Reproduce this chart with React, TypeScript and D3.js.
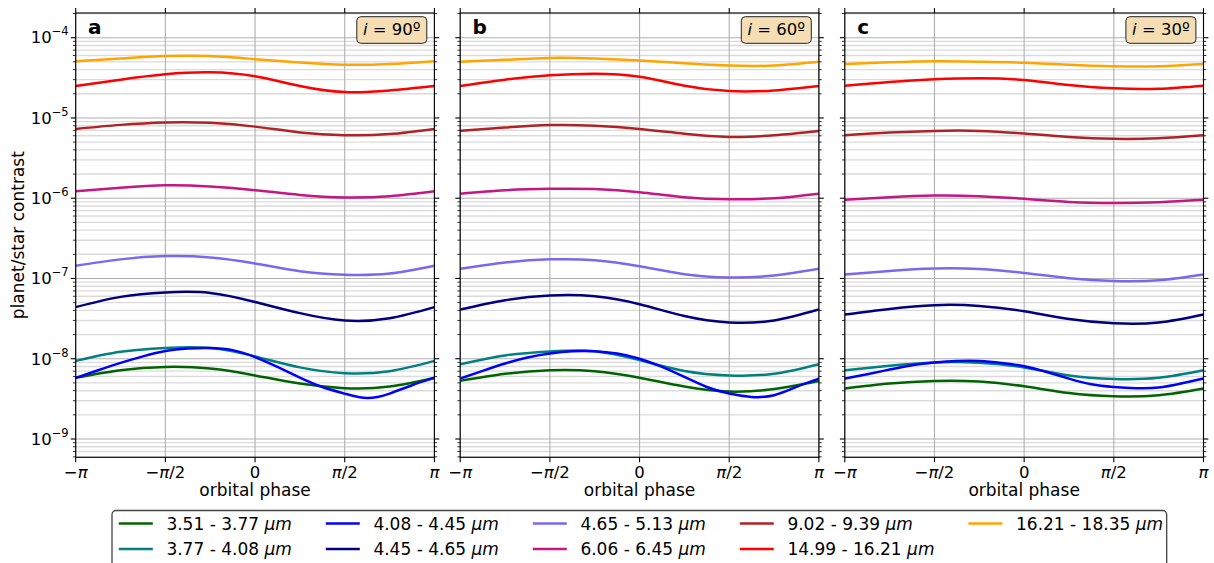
import React from "react";
import * as d3 from "d3";

// Phase samples, in units of pi
const phaseSamples = [-1, -0.75, -0.5, -0.25, 0, 0.25, 0.5, 0.75, 1];
// Finer phase samples for the more strongly modulated 4.08-4.45 µm band
const phaseSamplesFine = [
  -1, -0.875, -0.75, -0.625, -0.5, -0.375, -0.25, -0.125, 0, 0.125, 0.25, 0.375, 0.5, 0.625,
  0.75, 0.875, 1,
];

const bands = [
  "3.51 - 3.77",
  "3.77 - 4.08",
  "4.08 - 4.45",
  "4.45 - 4.65",
  "4.65 - 5.13",
  "6.06 - 6.45",
  "9.02 - 9.39",
  "14.99 - 16.21",
  "16.21 - 18.35",
];

const bandColors = [
  "#006400",
  "#008080",
  "#0000ff",
  "#000080",
  "#7b68ee",
  "#c71585",
  "#b22222",
  "#ff0000",
  "#ffa500",
];

// Planet/star contrast per band, inclination 90°
const contrastI90: number[][] = [
  [5.8e-9, 7.2e-9, 7.9e-9, 7.55e-9, 6.2e-9, 4.9e-9, 4.3e-9, 4.5e-9, 5.8e-9],
  [9.4e-9, 1.22e-8, 1.36e-8, 1.36e-8, 1.07e-8, 7.8e-9, 6.6e-9, 7.0e-9, 9.4e-9],
  [
    5.77e-9, 7.19e-9, 8.87e-9, 1.07e-8, 1.25e-8, 1.34e-8, 1.36e-8, 1.28e-8, 1.05e-8, 7.91e-9,
    5.83e-9, 4.45e-9, 3.68e-9, 3.24e-9, 3.68e-9, 4.68e-9, 5.77e-9,
  ],
  [4.4e-8, 5.9e-8, 6.7e-8, 6.6e-8, 5.1e-8, 3.7e-8, 3.0e-8, 3.2e-8, 4.4e-8],
  [1.44e-7, 1.73e-7, 1.9e-7, 1.83e-7, 1.54e-7, 1.23e-7, 1.11e-7, 1.15e-7, 1.44e-7],
  [1.22e-6, 1.35e-6, 1.45e-6, 1.4e-6, 1.26e-6, 1.1e-6, 1.02e-6, 1.06e-6, 1.22e-6],
  [7.3e-6, 8.2e-6, 8.8e-6, 8.7e-6, 7.8e-6, 6.6e-6, 6.1e-6, 6.3e-6, 7.3e-6],
  [2.5e-5, 3.0e-5, 3.5e-5, 3.7e-5, 3.3e-5, 2.5e-5, 2.1e-5, 2.2e-5, 2.5e-5],
  [5.1e-5, 5.5e-5, 5.9e-5, 5.9e-5, 5.4e-5, 4.9e-5, 4.6e-5, 4.7e-5, 5.1e-5],
];

// Inclination 60°
const contrastI60: number[][] = [
  [5.3e-9, 6.5e-9, 7.2e-9, 7.0e-9, 5.8e-9, 4.5e-9, 3.9e-9, 4.2e-9, 5.3e-9],
  [8.55e-9, 1.1e-8, 1.23e-8, 1.24e-8, 9.6e-9, 7.05e-9, 6.2e-9, 6.5e-9, 8.55e-9],
  [
    5.66e-9, 7.05e-9, 8.71e-9, 1.035e-8, 1.16e-8, 1.24e-8, 1.24e-8, 1.16e-8, 1.0e-8, 7.91e-9,
    5.93e-9, 4.45e-9, 3.68e-9, 3.34e-9, 3.51e-9, 4.45e-9, 5.66e-9,
  ],
  [4.1e-8, 5.36e-8, 6.13e-8, 6.0e-8, 4.78e-8, 3.4e-8, 2.83e-8, 3.0e-8, 4.1e-8],
  [1.32e-7, 1.58e-7, 1.73e-7, 1.69e-7, 1.42e-7, 1.13e-7, 1.03e-7, 1.09e-7, 1.32e-7],
  [1.14e-6, 1.26e-6, 1.31e-6, 1.3e-6, 1.19e-6, 1.03e-6, 9.7e-7, 1.0e-6, 1.14e-6],
  [6.9e-6, 7.6e-6, 8.15e-6, 8.0e-6, 7.3e-6, 6.35e-6, 5.8e-6, 6.1e-6, 6.9e-6],
  [2.5e-5, 3.0e-5, 3.4e-5, 3.56e-5, 3.26e-5, 2.52e-5, 2.16e-5, 2.2e-5, 2.5e-5],
  [5.0e-5, 5.3e-5, 5.6e-5, 5.5e-5, 5.2e-5, 4.8e-5, 4.5e-5, 4.5e-5, 5.0e-5],
];

// Inclination 30°
const contrastI30: number[][] = [
  [4.25e-9, 4.9e-9, 5.28e-9, 5.2e-9, 4.54e-9, 3.74e-9, 3.4e-9, 3.5e-9, 4.25e-9],
  [7.2e-9, 8.2e-9, 9.0e-9, 8.9e-9, 7.8e-9, 6.2e-9, 5.6e-9, 5.8e-9, 7.2e-9],
  [
    5.66e-9, 6.41e-9, 7.33e-9, 8.3e-9, 8.97e-9, 9.4e-9, 9.4e-9, 8.87e-9, 8.05e-9, 6.84e-9,
    5.66e-9, 4.81e-9, 4.45e-9, 4.29e-9, 4.37e-9, 4.91e-9, 5.66e-9,
  ],
  [3.56e-8, 4.18e-8, 4.65e-8, 4.55e-8, 3.9e-8, 3.13e-8, 2.77e-8, 2.83e-8, 3.56e-8],
  [1.12e-7, 1.24e-7, 1.33e-7, 1.31e-7, 1.17e-7, 1.01e-7, 9.3e-8, 9.5e-8, 1.12e-7],
  [9.55e-7, 1.03e-6, 1.08e-6, 1.06e-6, 9.85e-7, 9.0e-7, 8.7e-7, 8.9e-7, 9.55e-7],
  [6.1e-6, 6.6e-6, 6.9e-6, 6.9e-6, 6.4e-6, 5.8e-6, 5.5e-6, 5.6e-6, 6.1e-6],
  [2.52e-5, 2.81e-5, 3.03e-5, 3.12e-5, 2.97e-5, 2.57e-5, 2.34e-5, 2.31e-5, 2.52e-5],
  [4.7e-5, 4.93e-5, 5.08e-5, 5.02e-5, 4.88e-5, 4.6e-5, 4.4e-5, 4.4e-5, 4.7e-5],
];

const panelLetters = ["a", "b", "c"];
const inclinations = ["90º", "60º", "30º"];
const panelData = [contrastI90, contrastI60, contrastI30];

// x tick positions (units of pi) and labels
const xTickValues = [-1, -0.5, 0, 0.5, 1];
const xTickLabels: [string, string][] = [
  ["−", "π"],
  ["−", "π/2"],
  ["", "0"],
  ["", "π/2"],
  ["", "π"],
];
const yDecades = [-9, -8, -7, -6, -5, -4];

const FONT = "'DejaVu Sans', sans-serif";
const W = 1214;
const H = 563;
const TOP = 13;
const BOTTOM = 457.3;
const PW = 358.7;
const LEFTS = [75.7, 460.2, 844.8];

const y = d3
  .scaleLog()
  .domain([Math.pow(10, -9.228), Math.pow(10, -3.6923)])
  .range([BOTTOM, TOP]);

// minor tick values (2..9 × decade) within the visible range
const minorValues: number[] = [];
for (let e = -10; e <= -4; e++) {
  for (let m = 2; m <= 9; m++) {
    const v = m * Math.pow(10, e);
    const [lo, hi] = y.domain();
    if (v > lo && v < hi) minorValues.push(v);
  }
}

function PiLabel({ parts }: { parts: [string, string] }) {
  const [sign, body] = parts;
  if (body === "0") return <tspan>0</tspan>;
  const rest = body.slice(1);
  return (
    <>
      {sign && <tspan>{sign}</tspan>}
      <tspan fontStyle="italic">π</tspan>
      {rest && <tspan>{rest}</tspan>}
    </>
  );
}

function Panel({ idx }: { idx: number }) {
  const left = LEFTS[idx];
  const right = left + PW;
  const x = d3.scaleLinear().domain([-Math.PI, Math.PI]).range([left, right]);
  const makeLine = (phases: number[]) =>
    d3
      .line<number>()
      .x((_, i) => x(phases[i] * Math.PI))
      .y((v) => y(v))
      .curve(d3.curveNatural);
  const line = makeLine(phaseSamples);
  const lineFine = makeLine(phaseSamplesFine);
  const series = panelData[idx];
  const clipId = `clip-${idx}`;
  const boxW = 70;
  const boxRight = right - 7.6;
  return (
    <g>
      <defs>
        <clipPath id={clipId}>
          <rect x={left} y={TOP} width={PW} height={BOTTOM - TOP} />
        </clipPath>
      </defs>
      {/* minor horizontal grid */}
      {minorValues.map((v, i) => (
        <line
          key={`mg${i}`}
          x1={left}
          x2={right}
          y1={y(v)}
          y2={y(v)}
          stroke="#b0b0b0"
          strokeOpacity={0.45}
          strokeWidth={1.4}
        />
      ))}
      {/* major grid */}
      {yDecades.map((e) => (
        <line
          key={`gy${e}`}
          x1={left}
          x2={right}
          y1={y(Math.pow(10, e))}
          y2={y(Math.pow(10, e))}
          stroke="#b0b0b0"
          strokeWidth={1.1}
        />
      ))}
      {xTickValues.map((t) => (
        <line
          key={`gx${t}`}
          x1={x(t * Math.PI)}
          x2={x(t * Math.PI)}
          y1={TOP}
          y2={BOTTOM}
          stroke="#b0b0b0"
          strokeWidth={1.1}
        />
      ))}
      {/* curves */}
      <g clipPath={`url(#${clipId})`}>
        {series.map((vals, i) => (
          <path
            key={`s${i}`}
            d={(vals.length === phaseSamplesFine.length ? lineFine(vals) : line(vals)) || ""}
            fill="none"
            stroke={bandColors[i]}
            strokeWidth={2.5}
          />
        ))}
      </g>
      {/* spines */}
      <rect
        x={left}
        y={TOP}
        width={PW}
        height={BOTTOM - TOP}
        fill="none"
        stroke="#000"
        strokeWidth={1.1}
      />
      {/* x ticks top and bottom */}
      {xTickValues.map((t, i) => (
        <g key={`xt${t}`}>
          <line x1={x(t * Math.PI)} x2={x(t * Math.PI)} y1={BOTTOM} y2={BOTTOM + 4.9} stroke="#000" strokeWidth={1.1} />
          <line x1={x(t * Math.PI)} x2={x(t * Math.PI)} y1={TOP} y2={TOP - 4.9} stroke="#000" strokeWidth={1.1} />
          <text
            x={x(t * Math.PI)}
            y={477.5}
            textAnchor="middle"
            fontFamily={FONT}
            fontSize={16.5}
            fill="#000"
          >
            <PiLabel parts={xTickLabels[i]} />
          </text>
        </g>
      ))}
      {/* y ticks left and right */}
      {yDecades.map((e) => (
        <g key={`yt${e}`}>
          <line x1={left - 4.9} x2={left} y1={y(Math.pow(10, e))} y2={y(Math.pow(10, e))} stroke="#000" strokeWidth={1.1} />
          <line x1={right} x2={right + 4.9} y1={y(Math.pow(10, e))} y2={y(Math.pow(10, e))} stroke="#000" strokeWidth={1.1} />
          {idx === 0 && (
            <text
              x={left - 7}
              y={y(Math.pow(10, e)) + 5.8}
              textAnchor="end"
              fontFamily={FONT}
              fontSize={16.5}
              fill="#000"
            >
              <tspan>10</tspan>
              <tspan fontSize={11.5} dy={-8}>
                {`−${-e}`}
              </tspan>
            </text>
          )}
        </g>
      ))}
      {minorValues.map((v, i) => (
        <g key={`ym${i}`}>
          <line x1={left - 2.8} x2={left} y1={y(v)} y2={y(v)} stroke="#000" strokeWidth={0.8} />
          <line x1={right} x2={right + 2.8} y1={y(v)} y2={y(v)} stroke="#000" strokeWidth={0.8} />
        </g>
      ))}
      {/* panel letter */}
      <text x={left + 12.4} y={34.3} fontFamily={FONT} fontWeight="bold" fontSize={20} fill="#000">
        {panelLetters[idx]}
      </text>
      {/* inclination box */}
      <rect
        x={boxRight - boxW}
        y={16.7}
        width={boxW}
        height={26.6}
        rx={4}
        ry={4}
        fill="#f5deb3"
        stroke="#222"
        strokeWidth={1}
      />
      <text
        x={boxRight - boxW / 2}
        y={35}
        textAnchor="middle"
        fontFamily={FONT}
        fontSize={16.5}
        fill="#000"
      >
        <tspan fontStyle="italic">i</tspan>
        <tspan>{` = ${inclinations[idx]}`}</tspan>
      </text>
      {/* x label */}
      <text
        x={(left + right) / 2}
        y={495.5}
        textAnchor="middle"
        fontFamily={FONT}
        fontSize={17}
        fill="#000"
      >
        orbital phase
      </text>
    </g>
  );
}

function Legend() {
  const boxLeft = 112;
  const boxRight = 1166.7;
  const colStarts = [118.8, 325.8, 532.8, 739.8, 968.4];
  const rowLineY = [523.5, 549];
  const rowTextY = [529.8, 555.3];
  return (
    <g>
      <rect
        x={boxLeft}
        y={510.5}
        width={boxRight - boxLeft}
        height={70}
        rx={4}
        ry={4}
        fill="#fff"
        stroke="#444"
        strokeWidth={1.3}
      />
      {bands.map((b, i) => {
        const col = Math.floor(i / 2);
        const row = i % 2;
        const x0 = colStarts[col];
        return (
          <g key={b}>
            <line
              x1={x0}
              x2={x0 + 34}
              y1={rowLineY[row]}
              y2={rowLineY[row]}
              stroke={bandColors[i]}
              strokeWidth={2.5}
            />
            <text x={x0 + 47.6} y={rowTextY[row]} fontFamily={FONT} fontSize={17} fill="#000">
              <tspan>{`${b} `}</tspan>
              <tspan fontStyle="italic">μm</tspan>
            </text>
          </g>
        );
      })}
    </g>
  );
}

export default function App() {
  return (
    <svg
      width={W}
      height={H}
      viewBox={`0 0 ${W} ${H}`}
      style={{ position: "absolute", left: 0, top: 0, background: "#fff" }}
    >
      <rect width={W} height={H} fill="#fff" />
      {[0, 1, 2].map((i) => (
        <Panel key={i} idx={i} />
      ))}
      <text
        transform={`translate(24,${(TOP + BOTTOM) / 2}) rotate(-90)`}
        textAnchor="middle"
        fontFamily={FONT}
        fontSize={17}
        fill="#000"
      >
        planet/star contrast
      </text>
      <Legend />
    </svg>
  );
}
